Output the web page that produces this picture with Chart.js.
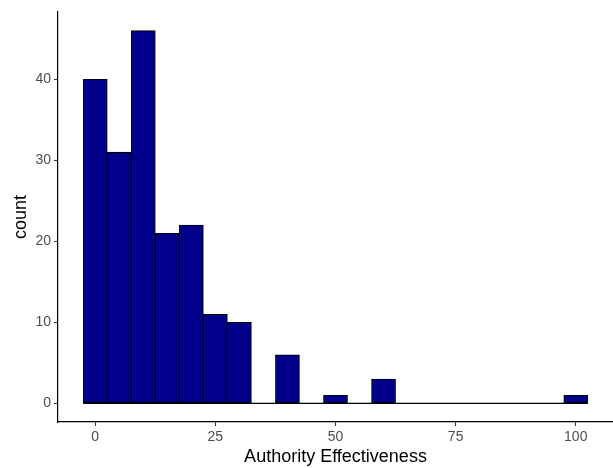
<!DOCTYPE html>
<html>
<head>
<meta charset="utf-8">
<script src="https://cdn.jsdelivr.net/npm/chart.js@4"></script>
<style>
  html, body { margin: 0; padding: 0; background: #ffffff; }
  #wrap { width: 613px; height: 468px; position: relative; }
</style>
</head>
<body>
<div id="wrap"><canvas id="chart"></canvas></div>
<script>
// Histogram bins (width 5), centred on these values
const binCenters = [0, 5, 10, 15, 20, 25, 30, 35, 40, 45, 50, 55, 60, 65, 70, 75, 80, 85, 90, 95, 100];
const binCounts  = [40, 31, 46, 21, 22, 11, 10, 0, 6, 0, 1, 0, 3, 0, 0, 0, 0, 0, 0, 0, 1];
const binWidth = 5;

const xTicks = [0, 25, 50, 75, 100];
const yTicks = [0, 10, 20, 30, 40];

const xTitle = 'Authority Effectiveness';
const yTitle = 'count';

// axis limits with a 5% expansion on each side of the data range
const xLo = binCenters[0] - binWidth / 2;
const xHi = binCenters[binCenters.length - 1] + binWidth / 2;
const xPad = (xHi - xLo) * 0.05;
const yMax = Math.max(...binCounts);
const yPad = yMax * 0.05;

const barData = binCenters.map((c, i) => ({ x: c, y: binCounts[i] }));
// outline under the empty bins, from the first bin edge to the last
const baseline = [{ x: xLo, y: 0 }, { x: xHi, y: 0 }];

const tickFont = { family: 'Liberation Sans, Arial, sans-serif', size: 14 };
const titleFont = { family: 'Liberation Sans, Arial, sans-serif', size: 18 };

new Chart(document.getElementById('chart'), {
  type: 'bar',
  data: {
    datasets: [
      {
        type: 'line',
        data: baseline,
        borderColor: '#000000',
        borderWidth: 1.2,
        pointRadius: 0,
        fill: false,
        order: 0
      },
      {
        data: barData,
        backgroundColor: '#00008B',
        borderColor: '#000000',
        borderWidth: 1.1,
        borderSkipped: false,
        barPercentage: 1,
        categoryPercentage: 1,
        grouped: false,
        order: 1
      }
    ]
  },
  options: {
    responsive: true,
    maintainAspectRatio: false,
    animation: false,
    layout: { padding: { top: 12, right: 0, bottom: 0, left: 0 } },
    plugins: {
      legend: { display: false },
      tooltip: { enabled: false }
    },
    scales: {
      x: {
        type: 'linear',
        offset: false,
        min: xLo - xPad,
        max: xHi + xPad,
        afterBuildTicks: s => { s.ticks = xTicks.map(v => ({ value: v })); },
        afterFit: s => { s.height = 46; },
        border: { display: true, color: '#000000', width: 1.2 },
        grid: { offset: false, drawOnChartArea: false, drawTicks: true, tickLength: 4, color: '#333333' },
        ticks: { color: '#4D4D4D', font: tickFont, padding: 3, maxRotation: 0, autoSkip: false },
        title: { display: true, text: xTitle, color: '#000000', font: titleFont, padding: { top: 0, bottom: 0 } }
      },
      y: {
        type: 'linear',
        min: -yPad,
        max: yMax + yPad,
        afterBuildTicks: s => { s.ticks = yTicks.map(v => ({ value: v })); },
        afterFit: s => { s.width = 58; },
        border: { display: true, color: '#000000', width: 1.2 },
        grid: { drawOnChartArea: false, drawTicks: true, tickLength: 4, color: '#333333' },
        ticks: { color: '#4D4D4D', font: tickFont, padding: 3, autoSkip: false },
        title: { display: true, text: yTitle, color: '#000000', font: titleFont, padding: { top: 10, bottom: 0 } }
      }
    }
  }
});
</script>
</body>
</html>
